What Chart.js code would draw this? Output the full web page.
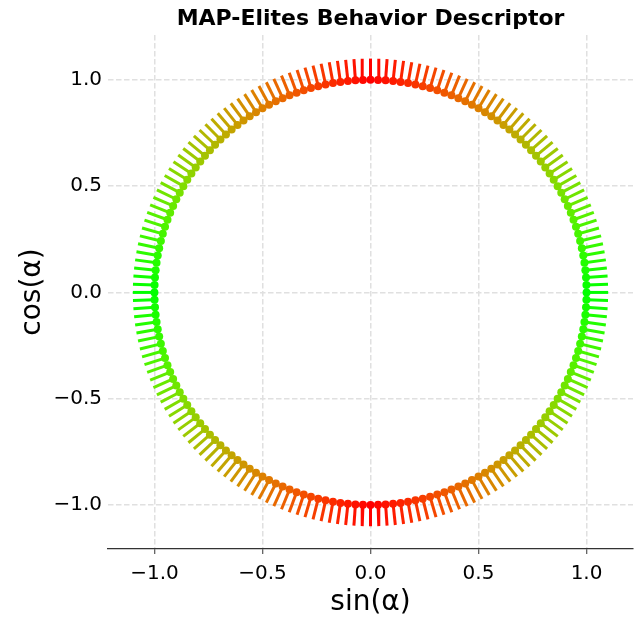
<!DOCTYPE html>
<html>
<head>
<meta charset="utf-8">
<script src="https://cdn.jsdelivr.net/npm/chart.js@4.4.1/dist/chart.umd.min.js"></script>
<style>
  html, body { margin: 0; padding: 0; background: #fff; }
  #wrap { width: 638px; height: 617px; }
</style>
</head>
<body>
<div id="wrap"><canvas id="chartCanvas" width="638" height="617"></canvas></div>
<script>
// 行為描述子的角度（度），每 2 度一個
const anglesDeg = [
  0, 2, 4, 6, 8, 10, 12, 14, 16, 18, 20, 22, 24, 26, 28, 30, 32, 34, 36, 38,
  40, 42, 44, 46, 48, 50, 52, 54, 56, 58, 60, 62, 64, 66, 68, 70, 72, 74, 76, 78,
  80, 82, 84, 86, 88, 90, 92, 94, 96, 98, 100, 102, 104, 106, 108, 110, 112, 114, 116, 118,
  120, 122, 124, 126, 128, 130, 132, 134, 136, 138, 140, 142, 144, 146, 148, 150, 152, 154, 156, 158,
  160, 162, 164, 166, 168, 170, 172, 174, 176, 178, 180, 182, 184, 186, 188, 190, 192, 194, 196, 198,
  200, 202, 204, 206, 208, 210, 212, 214, 216, 218, 220, 222, 224, 226, 228, 230, 232, 234, 236, 238,
  240, 242, 244, 246, 248, 250, 252, 254, 256, 258, 260, 262, 264, 266, 268, 270, 272, 274, 276, 278,
  280, 282, 284, 286, 288, 290, 292, 294, 296, 298, 300, 302, 304, 306, 308, 310, 312, 314, 316, 318,
  320, 322, 324, 326, 328, 330, 332, 334, 336, 338, 340, 342, 344, 346, 348, 350, 352, 354, 356, 358
];
const spokeLength = 0.1;
const xTicks = [-1.0, -0.5, 0.0, 0.5, 1.0];
const yTicks = [-1.0, -0.5, 0.0, 0.5, 1.0];

const FONT = "'DejaVu Sans', sans-serif";
const GRID_COLOR = "#e0e0e0";
const GRID_DASH = [5.5, 2.5];

// 點的座標 (sin, cos)
const points = anglesDeg.map(a => {
	const r = a * Math.PI / 180;
	return { x: Math.sin(r), y: Math.cos(r) };
});

// 顏色：上下為紅，左右為綠
const colors = points.map(p =>
	`rgb(${Math.round(255 * Math.abs(p.y))}, ${Math.round(255 * Math.abs(p.x))}, 0)`
);

// 放射狀短線，用 null 斷開
const spokes = [];
points.forEach(p => {
	spokes.push({ x: p.x, y: p.y });
	spokes.push({ x: p.x * (1 + spokeLength), y: p.y * (1 + spokeLength) });
	spokes.push({ x: null, y: null });
});

const fmt = v => v.toFixed(1).replace("-", "\u2212");

// 標題畫在繪圖區中央上方
const titlePlugin = {
	id: "axesTitle",
	afterDraw(chart) {
		const { ctx, chartArea } = chart;
		ctx.save();
		ctx.font = `bold 22px ${FONT}`;
		ctx.fillStyle = "#000";
		ctx.textAlign = "center";
		ctx.textBaseline = "alphabetic";
		ctx.fillText("MAP-Elites Behavior Descriptor", (chartArea.left + chartArea.right) / 2, 25);
		ctx.restore();
	}
};

const ctx = document.getElementById("chartCanvas").getContext("2d");
const chart = new Chart(ctx, {
	type: "scatter",
	data: {
		datasets: [
			{
				label: "elites",
				data: points,
				pointRadius: 4,
				pointHoverRadius: 4,
				pointBorderWidth: 0,
				pointBackgroundColor: colors,
				showLine: false,
			},
			{
				label: "spokes",
				data: spokes,
				showLine: true,
				spanGaps: false,
				pointRadius: 0,
				borderWidth: 3,
				borderCapStyle: "butt",
				segment: {
					borderColor: c => colors[Math.floor(c.p0DataIndex / 3)],
				},
			},
		],
	},
	options: {
		responsive: false,
		animation: false,
		layout: { padding: { top: 35, right: 5, left: 0, bottom: 0 } },
		scales: {
			x: {
				type: "linear",
				min: -1.215,
				max: 1.215,
				afterBuildTicks: s => { s.ticks = xTicks.map(v => ({ value: v })); },
				afterFit: s => { s.height = 68; },
				grid: {
					color: GRID_COLOR,
					lineWidth: 1.5,
					drawTicks: true,
					tickLength: 5,
					tickColor: "#333",
					tickWidth: 1,
					tickBorderDash: [],
				},
				border: { display: true, color: "#333", width: 1.2, dash: GRID_DASH },
				ticks: {
					callback: v => fmt(v),
					color: "#000",
					padding: 8,
					maxRotation: 0,
					font: { family: FONT, size: 20 },
				},
				title: {
					display: true,
					text: "sin(\u03b1)",
					color: "#000",
					font: { family: FONT, size: 28, lineHeight: 1 },
					padding: { top: 0, bottom: 0 },
				},
			},
			y: {
				type: "linear",
				min: -1.207,
				max: 1.211,
				afterBuildTicks: s => { s.ticks = yTicks.map(v => ({ value: v })); },
				afterFit: s => { s.width = 108; },
				grid: {
					color: GRID_COLOR,
					lineWidth: 1.5,
					drawTicks: false,
				},
				border: { display: false, dash: GRID_DASH },
				ticks: {
					callback: v => fmt(v),
					color: "#000",
					padding: 6,
					font: { family: FONT, size: 20 },
				},
				title: {
					display: true,
					text: "cos(\u03b1)",
					color: "#000",
					font: { family: FONT, size: 28, lineHeight: 1 },
					padding: { top: 19, bottom: 0 },
				},
			},
		},
		plugins: {
			legend: { display: false },
			tooltip: { enabled: false },
		},
	},
	plugins: [titlePlugin],
});
</script>
</body>
</html>
